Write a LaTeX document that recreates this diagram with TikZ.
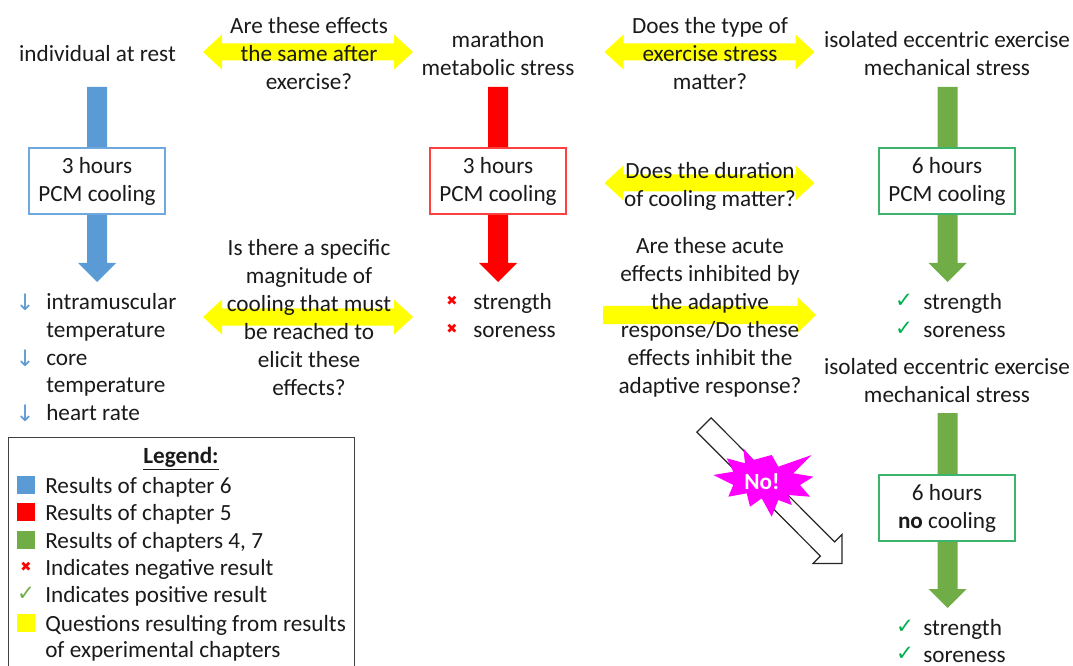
\documentclass[tikz,border=0pt]{standalone}
\usepackage{fontspec}
\setmainfont{Carlito}
\newfontfamily\djv{DejaVu Sans}
\usetikzlibrary{arrows.meta}
\definecolor{cblue}{HTML}{5B9BD5}
\definecolor{cred}{HTML}{FF0000}
\definecolor{cgreen}{HTML}{70AD47}
\definecolor{cyel}{HTML}{FFFF00}
\definecolor{cmag}{HTML}{FF00FF}
\definecolor{ctext}{HTML}{1A1A1A}
\definecolor{bbord}{HTML}{6FA8DC}
\definecolor{rbord}{HTML}{FF4040}
\definecolor{gbord}{HTML}{3CB46E}
\definecolor{ccheck}{HTML}{00B050}
\definecolor{legbord}{HTML}{404040}
\tikzset{
  vblock/.pic={\path[pic actions] (-10,0) -- (-10,176) -- (-19,176) -- (0,195) -- (19,176) -- (10,176) -- (10,0) -- cycle;},
  ydouble/.pic={\path[pic actions] (-105,0) -- (-86,-17.5) -- (-86,-8.5) -- (86,-8.5) -- (86,-17.5) -- (105,0) -- (86,17.5) -- (86,8.5) -- (-86,8.5) -- (-86,17.5) -- cycle;},
  ysingle/.pic={\path[pic actions] (-106.5,-9) -- (88,-9) -- (88,-18) -- (106.5,0) -- (88,18) -- (88,9) -- (-106.5,9) -- cycle;},
  txt/.style={align=center},
  item/.style={anchor=west, text height=14pt, text depth=1.5pt},
  cbox/.style={draw, fill=white, line width=0.9pt, minimum width=102pt, minimum height=49.5pt, align=center},
  legsq/.style={minimum width=13.5pt, minimum height=13.5pt},
  dn/.style={text=cblue, font=\djv\fontsize{17}{19}\selectfont},
  ex/.style={text=cred, font=\djv\fontsize{10}{12}\selectfont},
  ck/.style={text=ccheck, font=\djv\fontsize{16}{18}\selectfont},
}
\begin{document}
\begin{tikzpicture}[x=0.75pt,y=-0.75pt,
  every node/.style={text=ctext, font=\fontsize{17.4}{21}\selectfont, inner sep=0pt}]
\useasboundingbox (0,0) rectangle (1073,666);
% anchor coordinates for the block arrows
\coordinate (bTop) at (97,87);
\coordinate (rTop) at (498,87);
\coordinate (gTop) at (947.5,87);
\coordinate (g2Top) at (947.5,413);
\coordinate (yA) at (308,52);
\coordinate (yB) at (709.5,52);
\coordinate (yC) at (709.5,183);
\coordinate (yD) at (308,317);
\coordinate (yE) at (709.5,315);
% block arrows
\pic[fill=cblue] at (bTop) {vblock};
\pic[fill=cred] at (rTop) {vblock};
\pic[fill=cgreen] at (gTop) {vblock};
\pic[fill=cgreen] at (g2Top) {vblock};
% yellow question arrows
\pic[fill=cyel] at (yA) {ydouble};
\pic[fill=cyel] at (yB) {ydouble};
\pic[fill=cyel] at (yC) {ydouble};
\pic[fill=cyel] at (yD) {ydouble};
\pic[fill=cyel] at (yE) {ysingle};
% white diagonal arrow
\draw[black!85, fill=white, line width=0.9pt, line join=miter]
  (711.1,417.9) -- (834.6,541.9) -- (842,534.5) -- (842,563.5) -- (813,563.5) -- (820.4,556.1) -- (696.9,432.1) -- cycle;
% explosion
\fill[cmag] (743.3,448.3) -- (753.3,460) -- (771.7,455) -- (778.3,466.7) -- (811.7,455) -- (793.3,473.3)
  -- (813.3,476.7) -- (800,485) -- (810,496.7) -- (788.3,495) -- (791.7,505) -- (778.3,500)
  -- (771.7,516.7) -- (761.7,498.3) -- (750,506.7) -- (746.7,493.3) -- (728.3,496.7) -- (733.3,485)
  -- (713.3,475) -- (733.3,471.7) -- (726.7,458.3) -- (745,463.3) -- cycle;
\node[text=white, font=\bfseries\fontsize{17.4}{21}\selectfont] (no) at (762,482) {No!};
% top row
\node[txt] (rest) at (97.5,53.5) {individual at rest};
\node[txt] (q1) at (309,53.5) {Are these effects\\the same after\\exercise?};
\node[txt] (mar) at (498,53.5) {marathon\\metabolic stress};
\node[txt] (q2) at (710,53.5) {Does the type of\\exercise stress\\matter?};
\node[txt] (iso) at (947,53.5) {isolated eccentric exercise\\mechanical stress};
% boxes
\node[cbox, draw=bbord] (b1) at (97,181) {3 hours\\PCM cooling};
\node[cbox, draw=rbord] (b2) at (498,181) {3 hours\\PCM cooling};
\node[txt] (q3) at (710,186.5) {Does the duration\\of cooling matter?};
\node[cbox, draw=gbord] (b3) at (947,181) {6 hours\\PCM cooling};
% middle questions
\node[txt] (q4) at (309,317.5) {Is there a specific\\magnitude of\\cooling that must\\be reached to\\elicit these\\effects?};
\node[txt] (q5) at (710,317.5) {Are these acute\\effects inhibited by\\the adaptive\\response/Do these\\effects inhibit the\\adaptive response?};
% blue results
\node[dn] (d1) at (25,302) {↓};
\node[dn] (d2) at (25,358) {↓};
\node[dn] (d3) at (25,413) {↓};
\node[item] (l1) at (46,301) {intramuscular};
\node[item] (l2) at (46,329) {temperature};
\node[item] (l3) at (46,357) {core};
\node[item] (l4) at (46,384) {temperature};
\node[item] (l5) at (46,412) {heart rate};
% red results
\node[ex] (x1) at (452,301) {✖};
\node[ex] (x2) at (452,329) {✖};
\node[item] (r1) at (473,301) {strength};
\node[item] (r2) at (473,329) {soreness};
% green results
\node[ck] (c1) at (904,301) {✓};
\node[ck] (c2) at (904,329) {✓};
\node[item] (g1) at (923,301) {strength};
\node[item] (g2) at (923,329) {soreness};
% second green column
\node[txt] (iso2) at (947,380.5) {isolated eccentric exercise\\mechanical stress};
\node[cbox, draw=gbord] (b4) at (947,508) {6 hours\\\textbf{no} cooling};
\node[ck] (c3) at (905,627) {✓};
\node[ck] (c4) at (905,654) {✓};
\node[item] (g3) at (923,627) {strength};
\node[item] (g4) at (923,654) {soreness};
% legend
\node[draw=legbord, line width=0.9pt, minimum width=259.5pt, minimum height=190pt, anchor=north west] (leg) at (8,437) {};
\node[font=\bfseries\fontsize{17.4}{21}\selectfont] (legt) at (181,459) {\underline{Legend:}};
\node[legsq, fill=cblue] (s1) at (26,485) {};
\node[legsq, fill=cred] (s2) at (26,512) {};
\node[legsq, fill=cgreen] (s3) at (26,540) {};
\node[ex] (lx) at (26,567) {✖};
\node[ck, text=cgreen] (lc) at (26,594) {✓};
\node[legsq, fill=cyel] (s4) at (26,623) {};
\node[item] (t1) at (45,485) {Results of chapter 6};
\node[item] (t2) at (45,512) {Results of chapter 5};
\node[item] (t3) at (45,540) {Results of chapters 4, 7};
\node[item] (t4) at (45,567) {Indicates negative result};
\node[item] (t5) at (45,594) {Indicates positive result};
\node[item] (t6) at (45,623) {Questions resulting from results};
\node[item] (t7) at (45,649) {of experimental chapters};
\end{tikzpicture}
\end{document}
